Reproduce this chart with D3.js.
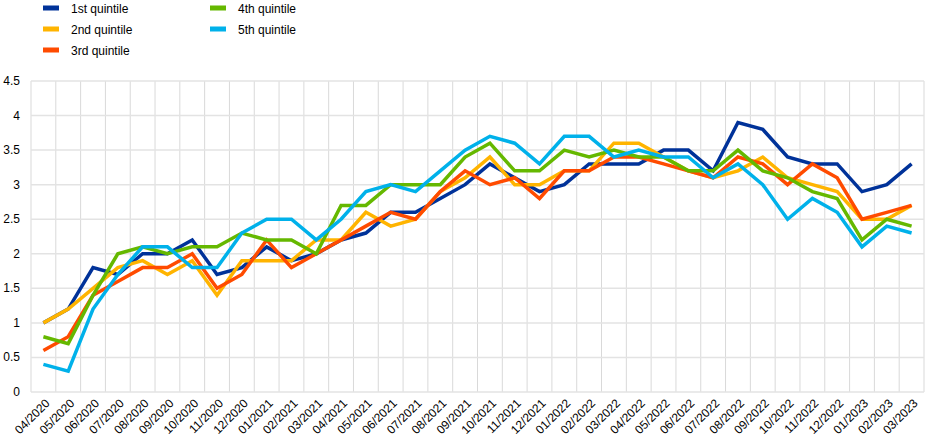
<!DOCTYPE html>
<html><head><meta charset="utf-8">
<script src="https://cdn.jsdelivr.net/npm/d3@7/dist/d3.min.js"></script>
<style>body{margin:0;background:#fff}svg{display:block}text{font-family:"Liberation Sans",Arial,sans-serif;fill:#000}</style>
</head><body><svg id="c" width="948" height="448"></svg>
<script>
const categories=["04/2020","05/2020","06/2020","07/2020","08/2020","09/2020","10/2020","11/2020","12/2020","01/2021","02/2021","03/2021","04/2021","05/2021","06/2021","07/2021","08/2021","09/2021","10/2021","11/2021","12/2021","01/2022","02/2022","03/2022","04/2022","05/2022","06/2022","07/2022","08/2022","09/2022","10/2022","11/2022","12/2022","01/2023","02/2023","03/2023"];
const q1=[1.0,1.2,1.8,1.7,2.0,2.0,2.2,1.7,1.8,2.1,1.9,2.0,2.2,2.3,2.6,2.6,2.8,3.0,3.3,3.1,2.9,3.0,3.3,3.3,3.3,3.5,3.5,3.2,3.9,3.8,3.4,3.3,3.3,2.9,3.0,3.3];
const q2=[1.0,1.2,1.5,1.8,1.9,1.7,1.9,1.4,1.9,1.9,1.9,2.2,2.2,2.6,2.4,2.5,2.9,3.1,3.4,3.0,3.0,3.2,3.2,3.6,3.6,3.4,3.2,3.1,3.2,3.4,3.1,3.0,2.9,2.5,2.5,2.7];
const q3=[0.6,0.8,1.4,1.6,1.8,1.8,2.0,1.5,1.7,2.2,1.8,2.0,2.2,2.4,2.6,2.5,2.9,3.2,3.0,3.1,2.8,3.2,3.2,3.4,3.4,3.3,3.2,3.1,3.4,3.3,3.0,3.3,3.1,2.5,2.6,2.7];
const q4=[0.8,0.7,1.4,2.0,2.1,2.0,2.1,2.1,2.3,2.2,2.2,2.0,2.7,2.7,3.0,3.0,3.0,3.4,3.6,3.2,3.2,3.5,3.4,3.5,3.4,3.4,3.2,3.2,3.5,3.2,3.1,2.9,2.8,2.2,2.5,2.4];
const q5=[0.4,0.3,1.2,1.7,2.1,2.1,1.8,1.8,2.3,2.5,2.5,2.2,2.5,2.9,3.0,2.9,3.2,3.5,3.7,3.6,3.3,3.7,3.7,3.4,3.5,3.4,3.4,3.1,3.3,3.0,2.5,2.8,2.6,2.1,2.4,2.3];
const seriesNames=["1st quintile","2nd quintile","3rd quintile","4th quintile","5th quintile"];
const seriesColors=["#003299","#ffb400","#ff4b00","#65b800","#00b1ea"];
const seriesValues=[q1,q2,q3,q4,q5];
const yTicks=[0,0.5,1,1.5,2,2.5,3,3.5,4,4.5];

const svg=d3.select("#c");
const L=31,R=924,T=81,B=392;
const x=d3.scaleBand().domain(categories).range([L,R]).padding(0);
const y=d3.scaleLinear().domain([0,4.5]).range([B,T]);
const cx=c=>x(c)+x.bandwidth()/2;

const g=svg.append("g");
// vertical gridlines
const vb=categories.map(c=>x(c)).concat([R]);
g.selectAll(".vg").data(vb).enter().append("line")
 .attr("x1",d=>d).attr("x2",d=>d).attr("y1",T).attr("y2",B)
 .attr("stroke","#d9d9d9").attr("stroke-width",1);
// horizontal gridlines
g.selectAll(".hg").data(yTicks).enter().append("line")
 .attr("x1",L).attr("x2",R).attr("y1",d=>y(d)).attr("y2",d=>y(d))
 .attr("stroke","#e3e3e3").attr("stroke-width",1.5);

// y labels
svg.selectAll(".yl").data(yTicks).enter().append("text")
 .attr("x",20).attr("y",d=>y(d)+4).attr("text-anchor","end")
 .style("font-size","12px").text(d=>d);

// x labels
svg.selectAll(".xl").data(categories).enter().append("text")
 .attr("transform",c=>`translate(${cx(c)+4},${B+9}) rotate(-45)`)
 .attr("text-anchor","end").attr("dy","0.35em")
 .style("font-size","12px").text(c=>c);

// lines
const line=d3.line().x((d,i)=>cx(categories[i])).y(d=>y(d));
seriesValues.forEach((vals,k)=>{
  svg.append("path").datum(vals).attr("d",line)
   .attr("fill","none").attr("stroke",seriesColors[k])
   .attr("stroke-width",3.5).attr("stroke-linejoin","miter");
});

// legend
const legPos=[[43,8],[43,29],[43,50],[210,8],[210,29]];
seriesNames.forEach((n,k)=>{
  const [lx,ly]=legPos[k];
  svg.append("rect").attr("x",lx).attr("y",ly-2.5).attr("width",16).attr("height",5).attr("fill",seriesColors[k]);
  svg.append("text").attr("x",lx+28).attr("y",ly+4.5).style("font-size","12px").text(n);
});
</script></body></html>
